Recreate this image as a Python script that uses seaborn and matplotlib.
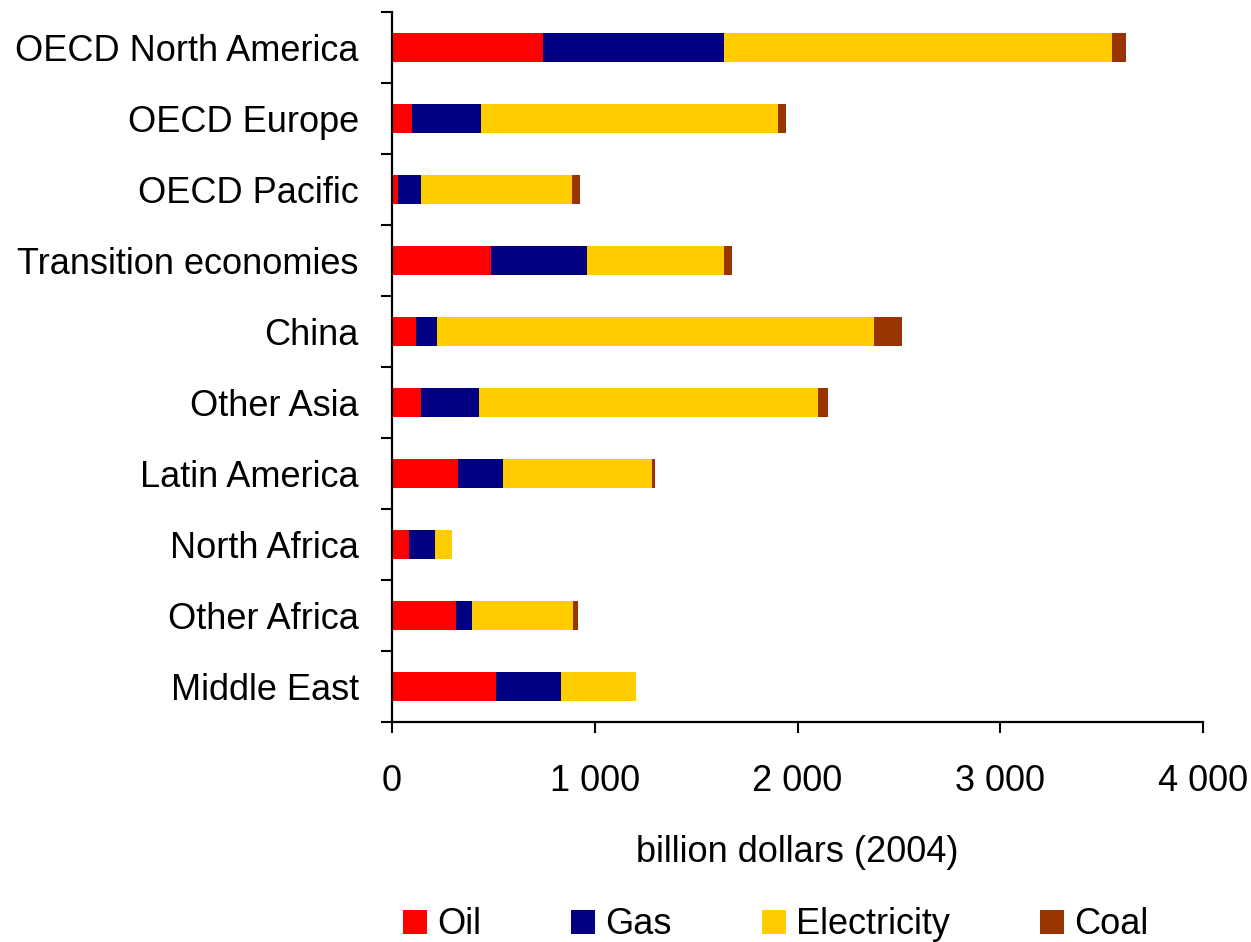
import pandas as pd
import numpy as np
import matplotlib
matplotlib.use("Agg")
import matplotlib.pyplot as plt
import matplotlib.ticker as mticker
from matplotlib.patches import Patch
import seaborn as sb

regions = ["OECD North America", "OECD Europe", "OECD Pacific", "Transition economies",
           "China", "Other Asia", "Latin America", "North Africa", "Other Africa", "Middle East"]
oil = [745, 99, 30, 488, 118, 143, 325, 84, 316, 513]
gas = [892, 340, 113, 474, 104, 286, 222, 128, 78, 320]
electricity = [1913, 1464, 745, 675, 2155, 1672, 735, 84, 499, 370]
coal = [69, 40, 39, 40, 138, 49, 15, 0, 24, 0]

fuels = ["Oil", "Gas", "Electricity", "Coal"]
colors = ["#FF0000", "#000080", "#FFCC00", "#993300"]

df = pd.DataFrame({"Region": regions, "Oil": oil, "Gas": gas,
                   "Electricity": electricity, "Coal": coal})
# cumulative sums for stacking
cum = df[fuels].cumsum(axis=1)
cum["Region"] = df["Region"]

sb.set_style("white")
plt.rcParams['font.family'] = ['Liberation Sans', 'DejaVu Sans']
plt.rcParams['font.size'] = 26
plt.rcParams['text.color'] = 'black'
plt.rcParams['axes.labelcolor'] = 'black'
plt.rcParams['xtick.color'] = 'black'
plt.rcParams['ytick.color'] = 'black'

fig = plt.figure(figsize=(12.51, 9.42), dpi=100)
ax = fig.add_axes([392 / 1251, 1 - 722 / 942, (1203 - 392) / 1251, (722 - 12) / 942])

# draw totals first, then smaller cumulative parts on top
for fuel, col in reversed(list(zip(fuels, colors))):
    sb.barplot(x=fuel, y="Region", data=cum, color=col, orient="h", saturation=1,
               width=0.41, linewidth=0, ax=ax)

ax.set_xlim(0, 4000)
ax.set_ylim(9.5, -0.5)
ax.set_xticks([0, 1000, 2000, 3000, 4000])
ax.xaxis.set_major_formatter(mticker.FuncFormatter(lambda v, p: f"{int(v):,}".replace(",", " ")))
ax.set_xlabel("billion dollars (2004)", labelpad=26)
ax.set_ylabel("")

for s in ["top", "right"]:
    ax.spines[s].set_visible(False)
for s in ["left", "bottom"]:
    ax.spines[s].set_linewidth(1.6)
    ax.spines[s].set_color("black")

ax.tick_params(axis="x", which="major", direction="out", length=8, width=1.5, pad=22, bottom=True)
ax.tick_params(axis="y", which="major", length=0, pad=24)
ax.set_yticks(np.arange(-0.5, 10, 1), minor=True)
ax.tick_params(axis="y", which="minor", direction="out", length=8, width=1.5, left=True)

handles = [Patch(facecolor=c, edgecolor="none", label=f) for f, c in zip(fuels, colors)]
fig.legend(handles=handles, loc="center left", bbox_to_anchor=(403 / 1251, 1 - 925 / 942),
           ncol=4, frameon=False, borderpad=0, borderaxespad=0, handlelength=0.66,
           handleheight=0.66, handletextpad=0.28, columnspacing=2.5)

plt.savefig("out.png", dpi=100)
